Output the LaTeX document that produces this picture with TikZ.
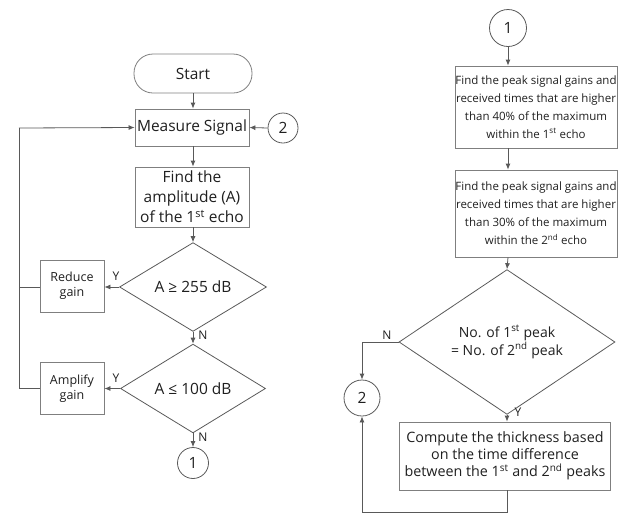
\documentclass[tikz,border=0pt]{standalone}
\usepackage{fontspec}
\setmainfont{Open Sans}
\usetikzlibrary{arrows,arrows.meta,shapes.geometric}

\definecolor{linegray}{HTML}{595959}
\definecolor{boxgray}{HTML}{7F7F7F}
\definecolor{txtgray}{HTML}{1F1F1F}

\begin{document}
\begin{tikzpicture}[x=1pt,y=-1pt,>={Latex[length=6pt,width=5pt]},line width=0.8pt,
	every node/.style={text=txtgray,font=\fontsize{15.5}{20}\selectfont},
	box/.style={draw=boxgray,rectangle,inner sep=0pt,align=center},
	term/.style={box,rounded corners=19pt},
	dec/.style={draw=linegray,diamond,inner sep=0pt,align=center},
	conn/.style={draw=linegray,circle,inner sep=0pt},
	flow/.style={->,draw=linegray},
	small/.style={font=\fontsize{12.5}{15}\selectfont},
	note/.style={font=\fontsize{11.5}{18}\selectfont},
	wide/.style={font=\fontsize{14.3}{17}\selectfont},
	yn/.style={font=\fontsize{12}{12}\selectfont,inner sep=0pt}]
	\useasboundingbox (0,0) rectangle (619,515);

	% left part: gain check
	\node[term,minimum width=118pt,minimum height=39pt] (start) at (193,73.5) {Start};
	\node[box,minimum width=114pt,minimum height=37pt] (measure) at (192,127.5) {Measure Signal};
	\node[conn,minimum size=30pt] (c2a) at (283,128) {2};
	\node[box,minimum width=114pt,minimum height=60pt] (amp) at (192,197) {Find the\\amplitude (A)\\of the 1\textsuperscript{st} echo};
	\node[dec,minimum width=147pt,minimum height=80pt] (d1) at (193,287) {A ≥ 255 dB};
	\node[box,small,minimum width=64pt,minimum height=52pt] (reduce) at (72,286) {Reduce\\gain};
	\node[dec,minimum width=145pt,minimum height=79pt] (d2) at (193,388.5) {A ≤ 100 dB};
	\node[box,small,minimum width=64pt,minimum height=52pt] (amplify) at (72,388.5) {Amplify\\gain};
	\node[conn,minimum size=31pt] (c1a) at (193,463) {1};
	\coordinate (lp) at (19,128);

	\draw[flow] (start.south) -- (start.south |- measure.north);
	\draw[flow] (c2a.west) -- (measure.east);
	\draw[flow] (start.south |- measure.south) -- (start.south |- amp.north);
	\draw[flow] (start.south |- amp.south) -- (d1.north);
	\draw[flow] (d1.west) -- (d1.west -| reduce.east);
	\draw[flow] (d1.south) -- (d2.north);
	\draw[flow] (d2.west) -- (d2.west -| amplify.east);
	\draw[flow] (d2.south) -- (c1a.north);
	\draw[draw=linegray] (amplify.west) -| (lp);
	\draw[draw=linegray] (reduce.west |- d1.west) -- (d1.west -| lp);
	\draw[flow] (lp) -- (measure.west);

	\node[yn] (y1) at (116,276) {Y};
	\node[yn] (n1) at (203,335) {N};
	\node[yn] (y2) at (116,378) {Y};
	\node[yn] (n2) at (203,437) {N};

	% right part: peak comparison
	\node[conn,minimum size=37pt] (c1b) at (508,28) {1};
	\node[box,note,minimum width=162pt,minimum height=82pt] (peak1) at (536,107) {Find the peak signal gains and\\received times that are higher\\than 40\% of the maximum\\within the 1\textsuperscript{st} echo};
	\node[box,note,minimum width=162pt,minimum height=87pt] (peak2) at (536,213.5) {Find the peak signal gains and\\received times that are higher\\than 30\% of the maximum\\within the 2\textsuperscript{nd} echo};
	\node[dec,font=\fontsize{14}{18}\selectfont,minimum width=216pt,minimum height=115pt] (d3) at (507,342) {No. of 1\textsuperscript{st} peak\\= No. of 2\textsuperscript{nd} peak};
	\node[conn,minimum size=36pt] (c2b) at (362,398) {2};
	\node[box,wide,minimum width=211pt,minimum height=68pt] (compute) at (505,456) {Compute the thickness based\\on the time difference\\between the 1\textsuperscript{st} and 2\textsuperscript{nd} peaks};

	\draw[flow] (c1b.south) -- (c1b |- peak1.north);
	\draw[flow] (c1b |- peak1.south) -- (c1b |- peak2.north);
	\draw[flow] (c1b |- peak2.south) -- (d3.north);
	\draw[flow] (d3.west) -| (c2b.north);
	\draw[flow] (d3.south) -- (d3.south |- compute.north);
	\draw[flow] (d3.south |- compute.south) -- ++(0,22) -| (c2b.south);

	\node[yn] (n3) at (387,335) {N};
	\node[yn] (y3) at (518,412) {Y};
\end{tikzpicture}
\end{document}
